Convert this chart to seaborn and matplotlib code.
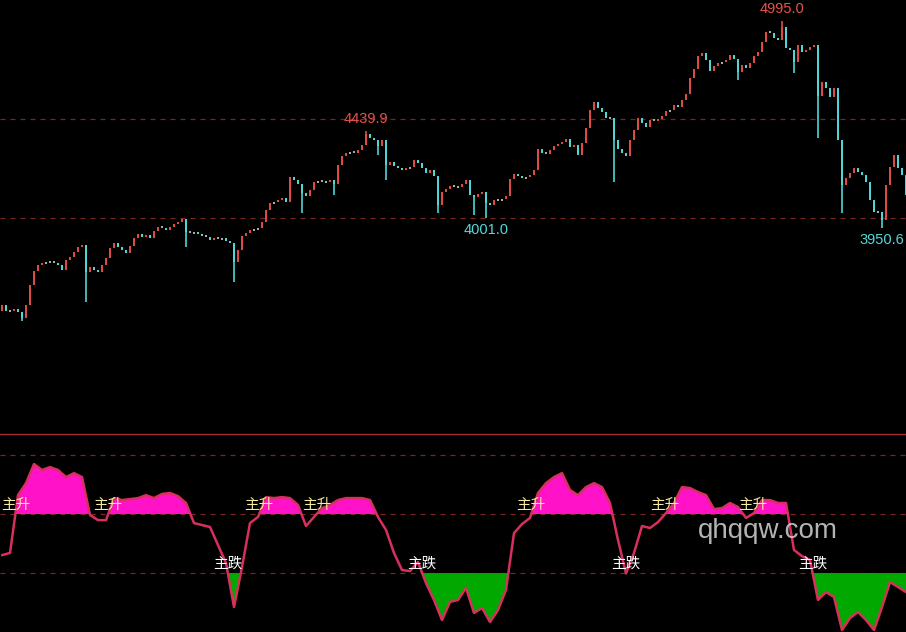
import numpy as np
import matplotlib
matplotlib.use("Agg")
import matplotlib.pyplot as plt
import seaborn as sns

# -----------------------------
# DATA
# -----------------------------

# daily closes, left to right
closes = [
    3562, 3532, 3532, 3542, 3527, 3497, 3562, 3663, 3734, 3764,
    3774, 3779, 3779, 3774, 3764, 3739, 3789, 3804, 3830, 3855,
    3865, 3729, 3754, 3739, 3729, 3764, 3799, 3850, 3875, 3855,
    3840, 3825, 3860, 3900, 3921, 3905, 3915, 3900, 3936, 3956,
    3951, 3941, 3956, 3971, 3981, 3996, 3931, 3926, 3931, 3921,
    3910, 3905, 3890, 3900, 3895, 3900, 3885, 3875, 3779, 3840,
    3910, 3926, 3941, 3946, 3951, 3981, 4042, 4077, 4082, 4092,
    4102, 4082, 4208, 4193, 4173, 4127, 4112, 4142, 4183, 4188,
    4183, 4183, 4193, 4173, 4269, 4314, 4329, 4334, 4329, 4344,
    4369, 4425, 4405, 4395, 4364, 4395, 4269, 4284, 4264, 4253,
    4243, 4253, 4258, 4294, 4279, 4253, 4228, 4243, 4213, 4067,
    4132, 4147, 4163, 4158, 4158, 4173, 4193, 4117, 4107, 4122,
    4132, 4077, 4067, 4092, 4092, 4097, 4112, 4198, 4223, 4213,
    4203, 4208, 4218, 4243, 4349, 4329, 4324, 4344, 4364, 4374,
    4385, 4400, 4359, 4369, 4319, 4380, 4455, 4546, 4586, 4556,
    4536, 4506, 4506, 4395, 4349, 4329, 4314, 4395, 4445, 4506,
    4481, 4460, 4496, 4491, 4501, 4516, 4541, 4546, 4571, 4561,
    4596, 4627, 4707, 4753, 4818, 4834, 4798, 4743, 4768, 4783,
    4788, 4798, 4823, 4803, 4738, 4773, 4758, 4783, 4818, 4839,
    4889, 4940, 4934, 4909, 4899, 4965, 4859, 4849, 4788, 4874,
    4839, 4849, 4864, 4874, 4617, 4687, 4657, 4612, 4657, 4395,
    4168, 4203, 4228, 4253, 4233, 4218, 4183, 4092, 4031, 4031,
    3991, 4168, 4258, 4319, 4253, 4218, 4117,
]
first_open = 3530

# long shadows (candle index -> price)
low_shadows = {
    5: 3482, 21: 3577, 46: 3855, 58: 3678, 75: 4026, 83: 4117,
    94: 4319, 96: 4193, 109: 4026, 118: 4016, 121: 4001.0, 153: 4183,
    184: 4697, 198: 4733, 204: 4405, 210: 4026, 220: 3950.6,
}
high_shadows = {91: 4439.9, 195: 4995.0}

# marked extremes: (candle index, "high"/"low")
marks = [(91, "high"), (121, "low"), (195, "high"), (220, "low")]

# price grid levels
price_levels = [4000, 4500]

# indicator, one value every second candle
indicator = [
    39.1, 40.2, 69.6, 75.7, 85.4, 82.4, 83.9, 82.4, 78.8, 80.8,
    78.8, 59.5, 56.9, 56.9, 68.1, 67.1, 67.6, 68.1, 69.6, 68.1,
    70.2, 70.7, 69.1, 65.6, 55.4, 54.4, 53.4, 44.2, 35.1, 12.7,
    33.0, 55.4, 58.5, 68.6, 68.1, 68.6, 68.1, 64.6, 53.9, 58.5,
    63.0, 64.6, 67.1, 68.1, 68.1, 68.1, 67.1, 58.5, 51.9, 40.2,
    31.5, 31.0, 35.6, 24.9, 16.3, 6.1, 15.3, 16.3, 22.4, 9.7,
    12.2, 5.1, 11.2, 21.4, 50.3, 54.9, 58.0, 70.7, 75.7, 78.8,
    80.8, 72.2, 69.6, 73.7, 75.7, 73.7, 65.6, 46.8, 29.8, 40.2,
    53.9, 52.9, 55.9, 60.5, 65.6, 73.7, 73.2, 71.2, 69.6, 62.5,
    63.0, 65.6, 63.5, 58.0, 60.5, 67.1, 67.1, 65.6, 65.6, 41.7,
    38.6, 36.6, 16.3, 20.3, 17.8, 1.0, 7.1, 10.2, 6.1, 1.0,
    12.7, 25.4, 22.9, 20.3,
]
ind_levels = [90, 60, 30]
rise_level = 60
fall_level = 30

# -----------------------------
# STYLE
# -----------------------------

sns.set_theme(style="dark", rc={
    "axes.facecolor": "black",
    "figure.facecolor": "black",
    "savefig.facecolor": "black",
})
plt.rcParams["font.family"] = ["Noto Sans CJK SC", "DejaVu Sans"]

UP = "#e04a44"
DOWN = "#4fd6d6"
FLAT = "#a9a9a9"
GRID = "#7a2424"

fig = plt.figure(figsize=(9.06, 6.32), dpi=100)
ax1 = fig.add_axes([0, 198 / 632, 1, 434 / 632])
ax2 = fig.add_axes([0, 0, 1, 198 / 632])

for ax in (ax1, ax2):
    ax.set_xticks([])
    ax.set_yticks([])
    ax.grid(False)
    for sp in ax.spines.values():
        sp.set_visible(False)

# -----------------------------
# CANDLES
# -----------------------------

close = np.array(closes, dtype=float)
opens = np.concatenate([[first_open], close[:-1]])
highs = np.maximum(opens, close)
lows = np.minimum(opens, close)
for i, v in low_shadows.items():
    lows[i] = v
for i, v in high_shadows.items():
    highs[i] = v

idx = np.arange(len(close))
change = close - opens
colors = np.where(np.abs(change) < 8, FLAT, np.where(change > 0, UP, DOWN))

for lvl in price_levels:
    ax1.axhline(lvl, color=GRID, lw=0.9, ls=(0, (4, 4)), zorder=1)

ax1.vlines(idx, lows, highs, colors=colors, lw=1.2, zorder=2)
body = np.where(np.abs(change) < 9, 9, change)
ax1.bar(idx, body, bottom=np.where(np.abs(change) < 9, opens - 4.5, opens),
        width=0.72, color=colors, lw=0, zorder=3)

for i, kind in marks:
    if kind == "high":
        ax1.annotate(f"{highs[i]:.1f}", (i, highs[i]), xytext=(0, 5),
                     textcoords="offset pixels", ha="center", va="bottom",
                     color="#e8524c", fontsize=10.5, family="Liberation Sans")
    else:
        ax1.annotate(f"{lows[i]:.1f}", (i, lows[i]), xytext=(0, -5),
                     textcoords="offset pixels", ha="center", va="top",
                     color="#55d8d8", fontsize=10.5, family="Liberation Sans")

ax1.set_xlim(-0.5, 226.0)
ax1.set_ylim(2911.4, 5101)

# -----------------------------
# INDICATOR
# -----------------------------

ind_x = np.arange(0, len(close), 2)
ind = np.array(indicator)

for lvl in ind_levels:
    ax2.axhline(lvl, color=GRID, lw=0.9, ls=(0, (4, 4)), zorder=1)

ax2.fill_between(ind_x, ind, rise_level, where=ind >= rise_level,
                 interpolate=True, color="#ff12c8", lw=0, zorder=2)
ax2.fill_between(ind_x, ind, fall_level, where=ind <= fall_level,
                 interpolate=True, color="#00a800", lw=0, zorder=2)
sns.lineplot(x=ind_x, y=ind, ax=ax2, color="#d8305e", linewidth=1.8,
             zorder=3)

# signal labels at crossings
for j in range(1, len(ind)):
    a, b = ind[j - 1], ind[j]
    if a < rise_level <= b:
        xc = ind_x[j - 1] + 2 * (rise_level - a) / (b - a)
        ax2.text(xc, rise_level + 1, "主升", ha="center", va="bottom",
                 color="#f5eea0", fontsize=10.5, zorder=5)
    if a > fall_level >= b:
        xc = ind_x[j - 1] + 2 * (a - fall_level) / (a - b)
        ax2.text(xc, fall_level + 1, "主跌", ha="center", va="bottom",
                 color="white", fontsize=10.5, zorder=5)

ax2.spines["top"].set_visible(True)
ax2.spines["top"].set_color("#a03030")
ax2.spines["top"].set_linewidth(1.0)
ax2.set_xlim(-0.5, 226.0)
ax2.set_ylim(0, 100.7)
ax2.set_xlabel("")
ax2.set_ylabel("")

fig.text(768 / 906, 1 - 531 / 632, "qhqqw.com", ha="center", va="center",
         color="#d4d4d4", alpha=0.85, fontsize=20, family="Liberation Sans")

fig.savefig("out.png", dpi=100)
